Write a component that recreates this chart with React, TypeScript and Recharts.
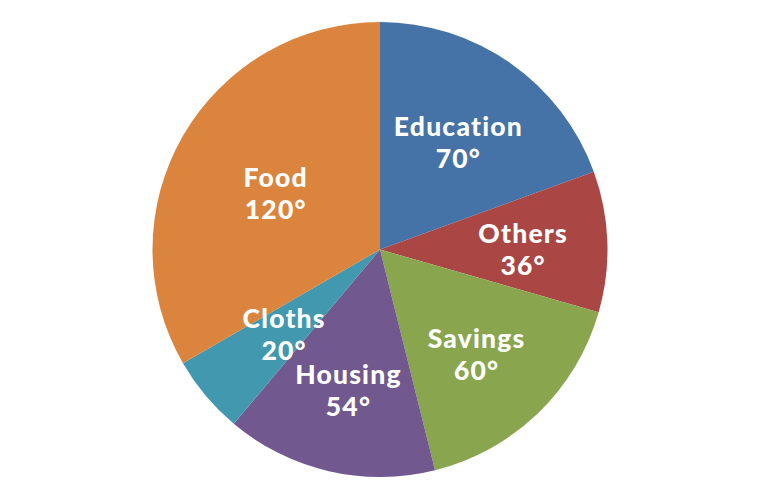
import React from "react";
import { PieChart, Pie, Cell } from "recharts";

const categories = ["Education", "Others", "Savings", "Housing", "Cloths", "Food"];
const degrees = [70, 36, 60, 54, 20, 120];
const colors = ["#4572A7", "#AA4643", "#89A54E", "#71588F", "#4198AF", "#DB843D"];

const data = categories.map((name, i) => ({ name, value: degrees[i] }));

const RAD = Math.PI / 180;

// Label sits near the slice centroid; labels of very thin slices are pulled inward.
const labelRadius = (outerRadius: number, percent: number) => {
  if (percent < 0.08) return outerRadius * 0.55;
  const a = percent * Math.PI; // half-angle in radians
  const centroid = ((2 / 3) * outerRadius * Math.sin(a)) / a;
  return centroid * 0.96;
};

const renderLabel = (props: any) => {
  const { cx, cy, midAngle, outerRadius, name, value, percent } = props;
  const r = labelRadius(outerRadius, percent);
  const x = cx + r * Math.cos(-midAngle * RAD);
  const y = cy + r * Math.sin(-midAngle * RAD);
  return (
    <text
      x={x}
      y={y}
      textAnchor="middle"
      fill="#ffffff"
      fontFamily="Lato, sans-serif"
      fontWeight={900}
      fontSize={26.5}
      letterSpacing={1.2}
    >
      <tspan x={x} y={y - 2}>{name}</tspan>
      <tspan x={x} y={y + 30}>{`${value}°`}</tspan>
    </text>
  );
};

export default function App() {
  return (
    <div style={{ position: "absolute", left: 0, top: 0, width: 760, height: 500, background: "#fff" }}>
      <PieChart width={760} height={500} margin={{ top: 0, right: 0, bottom: 0, left: 0 }}>
        <Pie
          data={data}
          dataKey="value"
          nameKey="name"
          cx={380}
          cy={249.5}
          outerRadius={227.5}
          startAngle={90}
          endAngle={-270}
          stroke="none"
          label={renderLabel}
          labelLine={false}
          isAnimationActive={false}
        >
          {data.map((d, i) => (
            <Cell key={d.name} fill={colors[i]} />
          ))}
        </Pie>
      </PieChart>
    </div>
  );
}
